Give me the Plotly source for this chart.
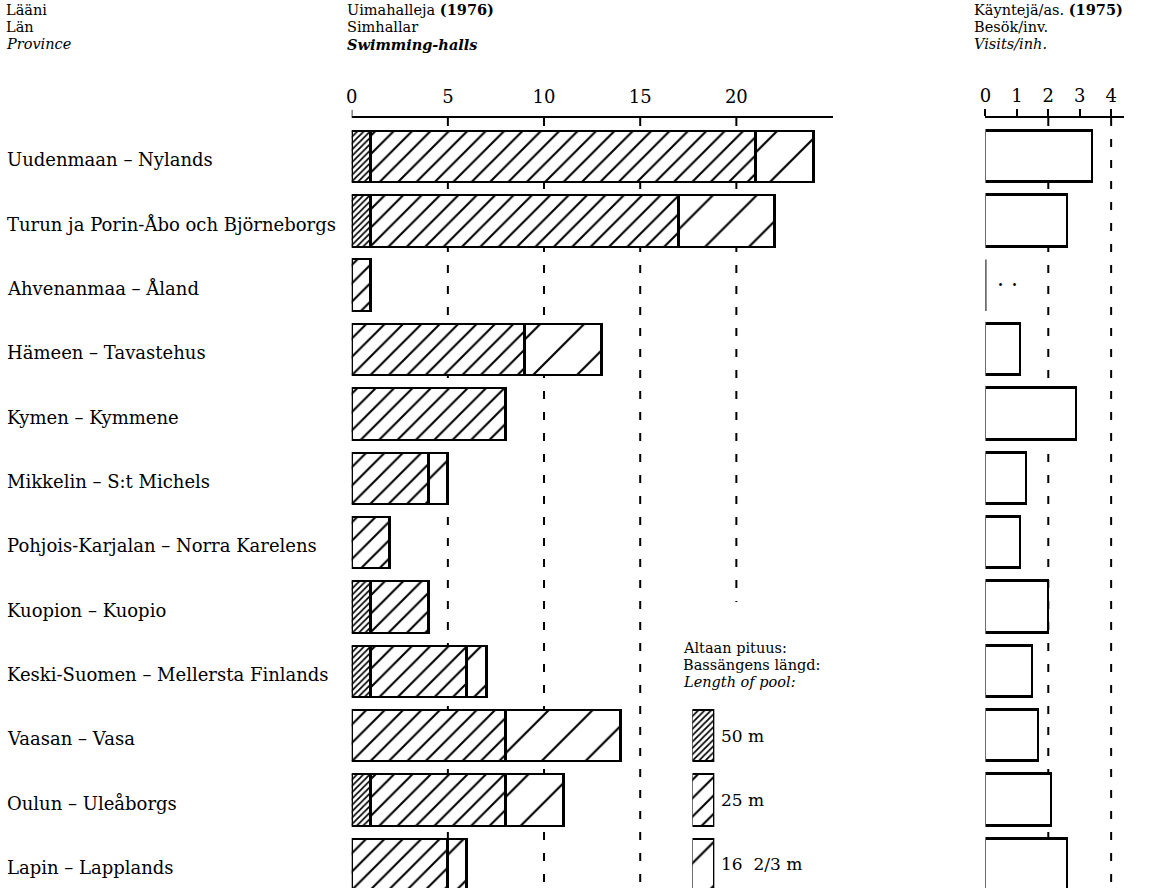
import plotly.graph_objects as go

# Swimming halls by province (1976) and visits per inhabitant (1975)
provinces = [
    "Uudenmaan – Nylands",
    "Turun ja Porin-Åbo och Björneborgs",
    "Ahvenanmaa – Åland",
    "Hämeen – Tavastehus",
    "Kymen – Kymmene",
    "Mikkelin – S:t Michels",
    "Pohjois-Karjalan – Norra Karelens",
    "Kuopion – Kuopio",
    "Keski-Suomen – Mellersta Finlands",
    "Vaasan – Vasa",
    "Oulun – Uleåborgs",
    "Lapin – Lapplands",
]
halls_50m = [1, 1, 0, 0, 0, 0, 0, 1, 1, 0, 1, 0]
halls_25m = [20, 16, 1, 9, 8, 4, 2, 3, 5, 8, 7, 5]
halls_16m = [3, 5, 0, 4, 0, 1, 0, 0, 1, 6, 3, 1]
visits = [3.4, 2.6, None, 1.1, 2.9, 1.3, 1.1, 2.0, 1.5, 1.7, 2.1, 2.6]

halls_ticks = [0, 5, 10, 15, 20]
visits_ticks = [0, 1, 2, 3, 4]
pool_labels = ["50 m", "25 m", "16\u00a0 2/3 m"]

W, H = 1165, 888
FONT = "DejaVu Serif"
INK = "black"

# vertical layout in pixels
AXIS_TOP = 118.0
ROW0 = 156.5
ROW_STEP = 64.36
rows = list(range(len(provinces)))
y_top = (AXIS_TOP - ROW0) / ROW_STEP
y_bottom = (H - ROW0) / ROW_STEP


def px_x(p):
    return p / W


def px_y(p):
    return 1 - p / H


def row_of(p):
    return (p - ROW0) / ROW_STEP


hatches = [
    dict(shape="/", size=4.5, solidity=0.38),
    dict(shape="/", size=13, solidity=0.16),
    dict(shape="/", size=31, solidity=0.07),
]

fig = go.Figure()

# stacked hall counts, one trace per pool length
for vals, hatch in zip([halls_50m, halls_25m, halls_16m], hatches):
    fig.add_trace(go.Bar(
        x=[v if v else None for v in vals], y=rows, orientation="h", width=0.8,
        marker=dict(color="white", line=dict(color=INK, width=2.5),
                    pattern=dict(fgcolor=INK, bgcolor="white", fgopacity=1, **hatch)),
        xaxis="x", yaxis="y", showlegend=False, hoverinfo="skip",
    ))

# visits per inhabitant
fig.add_trace(go.Bar(
    x=visits, y=rows, orientation="h", width=0.8,
    marker=dict(color="white", line=dict(color=INK, width=2.7)),
    xaxis="x2", yaxis="y", showlegend=False, hoverinfo="skip",
))

# pool-length key swatches
legend_rows = [9, 10, 11]
for r, hatch in zip(legend_rows, hatches):
    fig.add_trace(go.Bar(
        x=[1], y=[r], orientation="h", width=0.8,
        marker=dict(color="white", line=dict(color=INK, width=2.5),
                    pattern=dict(fgcolor=INK, bgcolor="white", fgopacity=1, **hatch)),
        xaxis="x3", yaxis="y", showlegend=False, hoverinfo="skip",
    ))

dash = "8px,13px"
shapes = []
for v in halls_ticks[1:]:
    end = row_of(602) if v == 20 else y_bottom + 1
    shapes.append(dict(type="line", xref="x", yref="y", x0=v, x1=v, y0=y_top, y1=end,
                       line=dict(color=INK, width=2, dash=dash), layer="below"))
for v in [2, 4]:
    shapes.append(dict(type="line", xref="x2", yref="y", x0=v, x1=v, y0=y_top, y1=y_bottom + 1,
                       line=dict(color=INK, width=2, dash=dash), layer="below"))
# corner stub at the zero of the hall axis
shapes.append(dict(type="line", xref="x", yref="paper", x0=0, x1=0,
                   y0=px_y(AXIS_TOP), y1=px_y(AXIS_TOP - 8), line=dict(color=INK, width=1.5)))
# missing visits for Åland: zero line with ".."
shapes.append(dict(type="line", xref="x2", yref="y", x0=0, x1=0, y0=2 - 0.4, y1=2 + 0.4,
                   line=dict(color=INK, width=2)))

annotations = []


def text(x, y, s, size=16, xanchor="left", xref="paper", yref="paper"):
    annotations.append(dict(x=x, y=y, xref=xref, yref=yref, text=s, showarrow=False,
                            xanchor=xanchor, yanchor="middle",
                            font=dict(family=FONT, size=size, color=INK)))


# column headers
header_lines = [10, 27, 44]
for xp, lines, size in [
    (-2, ["Lääni", "Län", "<i>Province</i>"], 14.5),
    (341, ["Uimahalleja <b>(1976)</b>", "Simhallar", "<b><i>Swimming-halls</i></b>"], 14.5),
    (971, ["Käyntejä/as. <b>(1975)</b>", "Besök/inv.", "<i>Visits/inh.</i>"], 14.5),
]:
    for yp, s in zip(header_lines, lines):
        text(px_x(xp), px_y(yp), s, size=size)

# province names
for r, name in zip(rows, provinces):
    text(px_x(-1), r + 0.05, name, size=18, yref="y")

text(0.3, 2 - 0.1, ". .", size=22, xref="x2", yref="y")

# key title and labels
for yp, s in zip([648, 665, 682], ["Altaan pituus:", "Bassängens längd:", "<i>Length of pool:</i>"]):
    text(px_x(678), px_y(yp), s, size=14.5)
for r, s in zip(legend_rows, pool_labels):
    text(px_x(717), r, s, size=17, yref="y")

axis_common = dict(side="top", anchor="y", showline=True, linecolor=INK, linewidth=1.5,
                   showgrid=False, zeroline=False, tickfont=dict(family=FONT, size=18, color=INK),
                   fixedrange=True)

fig.update_layout(
    width=W, height=H, margin=dict(l=0, r=0, t=0, b=0),
    paper_bgcolor="white", plot_bgcolor="rgba(0,0,0,0)",
    barmode="stack", bargap=0,
    font=dict(family=FONT, color=INK),
    xaxis=dict(domain=[px_x(347.5), px_x(830.8)], range=[0, 25], tickvals=halls_ticks,
               ticks="", ticklabelstandoff=6, **axis_common),
    xaxis2=dict(domain=[px_x(984.5), px_x(1123.5)], range=[0, 4.4], tickvals=visits_ticks,
                ticks="outside", ticklen=7, tickwidth=1.5, tickcolor=INK,
                ticklabelstandoff=0, **axis_common),
    xaxis3=dict(domain=[px_x(690), px_x(712)], range=[0, 1], anchor="y", visible=False,
                fixedrange=True),
    yaxis=dict(domain=[0, px_y(AXIS_TOP)], range=[y_bottom, y_top], visible=False,
               fixedrange=True),
    shapes=shapes, annotations=annotations,
)

fig.write_html("out.html")
